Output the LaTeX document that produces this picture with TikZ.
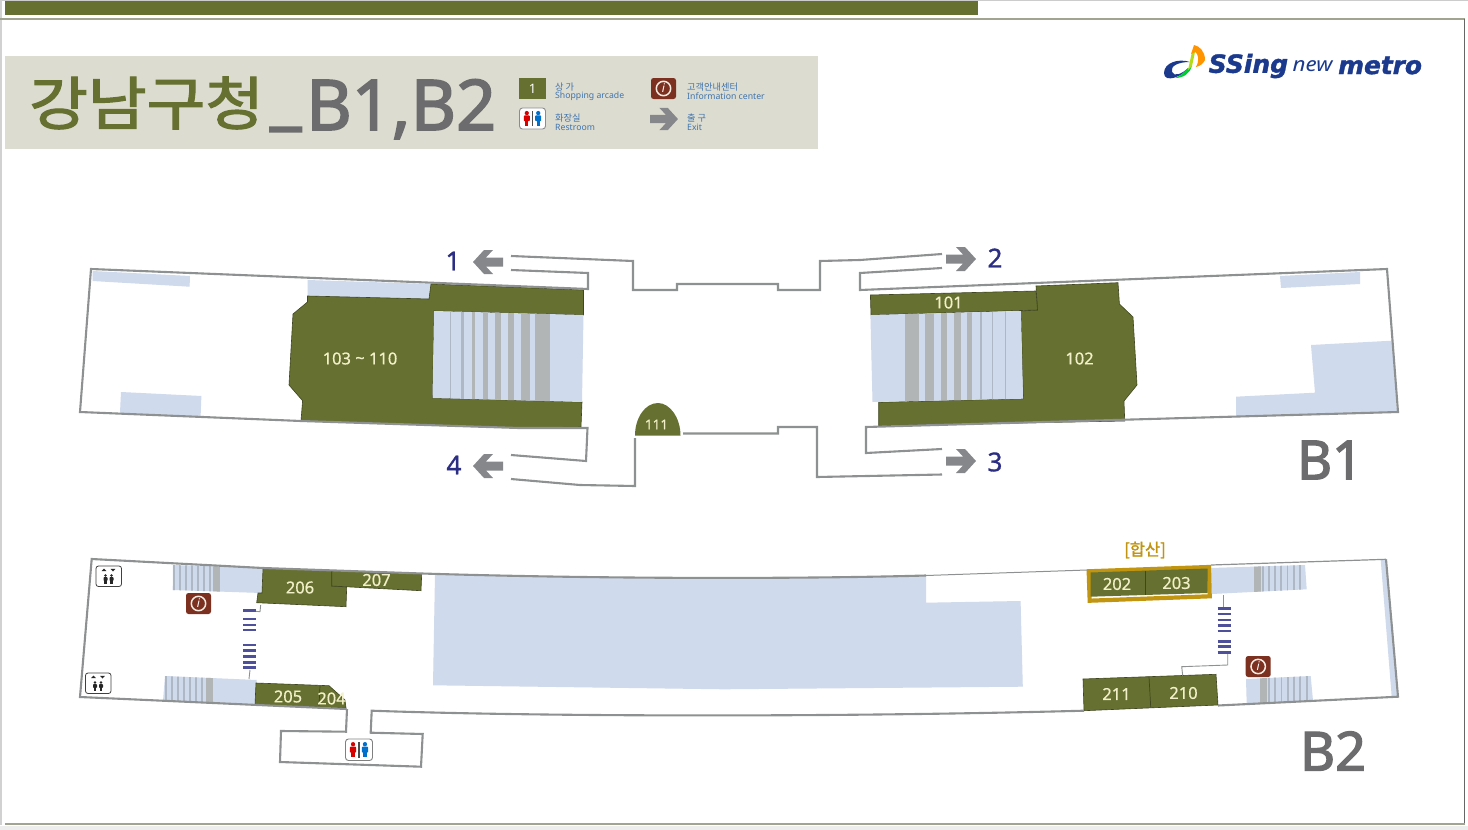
\documentclass[tikz,border=0pt]{standalone}
\usepackage{fontspec}
\setmainfont{Noto Sans}
\newfontfamily\krfont{Noto Sans CJK KR}
\newfontfamily\krsemi[FakeBold=1.6]{Noto Sans CJK KR}
\newfontfamily\krtitle[FakeBold=2.0]{Noto Sans CJK KR}
\newfontfamily\semifont[FakeBold=2.4]{Noto Sans}
\newfontfamily\numfont[FakeBold=1.2]{Noto Sans}
\newfontfamily\lightsemi[FakeBold=.6]{Noto Sans}
\newfontfamily\logofont[FakeBold=1.5]{DejaVu Sans}
\definecolor{olive}{HTML}{667030}
\definecolor{oliveedge}{HTML}{3F4620}
\definecolor{paleblue}{HTML}{CFDAEC}
\definecolor{wall}{HTML}{8E9191}
\definecolor{stripe}{HTML}{B2B5B5}
\definecolor{stripeb}{HTML}{AEB7C4}
\definecolor{labeltxt}{HTML}{F2F0C8}
\definecolor{titlegrey}{HTML}{6C6C6E}
\definecolor{navy}{HTML}{2B2E83}
\definecolor{sand}{HTML}{DDDCD0}
\definecolor{legendblue}{HTML}{3F74AE}
\definecolor{brownbox}{HTML}{7B3020}
\definecolor{arrowgrey}{HTML}{85878A}
\definecolor{gold}{HTML}{C1950F}
\definecolor{dash}{HTML}{4F509A}
\definecolor{logonavy}{HTML}{1B3A8E}
\tikzset{
 wallline/.style={draw=wall,line width=2.1pt,line join=miter},
 shop/.style={fill=olive,draw=oliveedge,line width=.6pt},
 pale/.style={fill=paleblue},
 roomlabel/.style={text=labeltxt,font=\lightsemi\fontsize{16.5}{16.5}\selectfont,inner sep=0pt},
 exitnum/.style={text=navy,font=\numfont\fontsize{26}{26}\selectfont,inner sep=0pt},
 floorlabel/.style={text=titlegrey,font=\semifont\fontsize{54}{54}\selectfont,inner sep=0pt},
 legendtxt/.style={text=legendblue,font=\fontsize{8.7}{8.7}\selectfont,inner sep=0pt,anchor=west},
 legendkr/.style={text=legendblue,font=\krfont\fontsize{9.2}{9.2}\selectfont,inner sep=0pt,anchor=west},
 exitarrow/.pic={\fill[arrowgrey] (15,0)--(4,-12)--(-5,-12)--(2,-4.5)--(-15,-4.5)--(-15,4.5)--(2,4.5)--(-5,12)--(4,12)--cycle;},
 dashbar/.style={draw=dash,line width=2.6pt},
}
\newcommand{\infoicon}[3]{% left, top, name
 \fill[brownbox,rounded corners=2.5pt] (#1,#2) rectangle ++(25,21);
 \draw[white!85!brown,line width=1.5pt] (#1+12.5,#2+10.5) circle (7.2);
 \node[inner sep=0pt,text=white,font=\fontsize{12}{12}\selectfont\bfseries\itshape] (#3) at (#1+12.5,#2+10.5) {i};
}
\newcommand{\personfig}[4]{% x, top y, color, height
 \fill[#3] (#1,#2+#4*.14) circle (#4*.14);
 \fill[#3,rounded corners=.8pt] (#1-#4*.2,#2+#4*.3) rectangle (#1+#4*.2,#2+#4*.68);
 \fill[#3] (#1-#4*.11,#2+#4*.6) rectangle (#1+#4*.11,#2+#4);
}
\newcommand{\lifticon}[2]{% left, top
 \draw[black!75,fill=white,line width=.8pt,rounded corners=2.5pt] (#1,#2) rectangle ++(25.5,20.5);
 \fill[black!85] (#1+8,#2+2.5) -- (#1+10.4,#2+5.1) -- (#1+5.6,#2+5.1) -- cycle;
 \fill[black!85] (#1+17,#2+5.5) -- (#1+19.4,#2+2.9) -- (#1+14.6,#2+2.9) -- cycle;
 \personfig{#1+9.5}{#2+8}{black!85}{10}
 \personfig{#1+15.5}{#2+8}{black!85}{10}
}
\newcommand{\wcicon}[5]{% left, top, width, height, border
 \draw[#5,fill=white,line width=.9pt,rounded corners=3pt] (#1,#2) rectangle ++(#3,#4);
 \personfig{#1+#3*.28}{#2+#4*.14}{red!85!black}{#4*.72}
 \personfig{#1+#3*.72}{#2+#4*.14}{blue!45!cyan!80!black}{#4*.72}
 \fill[black!70] (#1+#3*.5-.7,#2+#4*.12) rectangle (#1+#3*.5+.7,#2+#4*.88);
}
\newcommand{\stairband}[5]{% x0,x1,y0,y1, count
 \foreach \i in {0,...,#5} {
  \pgfmathsetmacro{\xa}{#1+(#2-#1)*\i/(#5+1)}
  \fill[stripeb] (\xa,#3) rectangle (\xa+1.8,#4);
 }
}
\begin{document}
\begin{tikzpicture}[x=1pt,y=-1pt]
\useasboundingbox (0,0) rectangle (1468,830);
\fill[white] (0,0) rectangle (1468,830);
% frame
\fill[black!20] (0,0) rectangle (1468,1);
\fill[black!18] (0,0) rectangle (1.5,825);
\fill[black!7] (0,825.5) rectangle (1468,830);
\fill[olive] (5,1) rectangle (978,15);
\draw[draw=black!35!olive!50,line width=2pt] (0,18.5) -- (1464.5,18.5);
\draw[draw=black!60,line width=1.3pt] (1464.5,18.5) -- (1464.5,824);
\draw[draw=black!35!olive!50,line width=2pt] (5,823.8) -- (1464.5,823.8);
% title
\fill[sand] (5,56) rectangle (818,149);
\node[inner sep=0pt,anchor=west,text=olive,font=\krtitle\fontsize{58}{58}\selectfont] (title) at (29,103) {\scalebox{1.1}[1]{강남구청}};
\node[inner sep=0pt,anchor=base west,text=titlegrey,font=\semifont\fontsize{70}{70}\selectfont] (titleb) at (270,130) {\raisebox{9pt}{\_}\hspace{5pt}B1,B2};
% legend
\fill[olive] (519,78) rectangle (546,99);
\node[text=white,inner sep=0pt,font=\bfseries\fontsize{13}{13}\selectfont] (l1) at (532.5,88.5) {1};
\node[legendkr] (l2) at (555,87) {상 가};
\node[legendtxt] (l3) at (555,96.5) {Shopping arcade};
\wcicon{519.5}{108}{26}{21}{black!45}
\node[legendkr] (l4) at (555,118) {화장실};
\node[legendtxt] (l5) at (555,127) {Restroom};
\infoicon{651}{78}{l6}
\node[legendkr] (l7) at (687,87) {고객안내센터};
\node[legendtxt] (l8) at (687,96.5) {Information center};
\pic[scale=.93] at (664,119) {exitarrow};
\node[legendkr] (l9) at (687,118) {출 구};
\node[legendtxt] (l10) at (687,127) {Exit};
% logo
\fill[logonavy] (1164,73) .. controls (1164,63) and (1178,58) .. (1190,62) .. controls (1178,62) and (1170,66) .. (1172,72) .. controls (1174,77) and (1182,74) .. (1188,68) .. controls (1184,76) and (1164,84) .. (1164,73) -- cycle;
\fill[green!60!teal] (1187,69) .. controls (1183,73) and (1180,76) .. (1175,78) .. controls (1184,78) and (1190,73) .. (1192,66) -- cycle;
\fill[yellow!70!green] (1188,70) -- (1192,66) -- (1195,52) -- (1192,52) -- cycle;
\fill[orange!85!yellow] (1191,54) -- (1194,45) .. controls (1200,46) and (1205,52) .. (1205,60) .. controls (1203,64) and (1200,66) .. (1196,67) .. controls (1200,60) and (1198,53) .. (1195,52) -- cycle;
\node[inner sep=0pt,anchor=west,text=logonavy,font=\logofont\bfseries\itshape\fontsize{25}{25}\selectfont] (logoa) at (1208.5,66) {SSing};
\node[inner sep=0pt,anchor=west,text=logonavy,font=\itshape\fontsize{20}{20}\selectfont] (logob) at (1292.5,66) {\scalebox{1.12}[1]{new}};
\node[inner sep=0pt,anchor=west,text=logonavy,font=\logofont\bfseries\itshape\fontsize{24.8}{24.8}\selectfont] (logoc) at (1338,65.5) {metro};
%%%%% B1
\fill[pale] (92.5,271)--(190,276)--(189.6,286.7)--(92.5,281)--cycle;
\fill[pale] (121,392)--(201.4,396)--(200.6,416.7)--(120,412.7)--cycle;
\fill[pale] (307.5,280)--(431,284)--(429,299)--(307.5,296)--cycle;
\fill[pale] (1280,276)--(1360,272)--(1360,284)--(1281,288)--cycle;
\fill[pale] (1311,345)--(1392,340.7)--(1397,412)--(1236,416.7)--(1236,396.7)--(1315,392.7)--cycle;
% left shop and stairs
\path[shop] (431,284)--(583.5,290)--(583.5,315)--(434,311)--(432.5,398)--(582,402)--(581,427)--(519,428)--(301,421)--(302.6,400.7)--(289,385)--(293,314)--(307.5,302)--(307.5,296)--(429,299)--cycle;
\begin{scope}
\clip (434,311)--(583.5,315)--(582,402)--(432.5,398)--cycle;
\fill[pale] (430,305) rectangle (590,405);
\foreach \a/\b/\c in {450/451/stripeb,461/463.5/stripeb,472/475/stripe,483/488/stripe,494.5/500.6/stripe,507.6/514/stripe,521/530/stripe,535/550/stripe}
 \fill[\c] (\a,305) rectangle (\b,405);
\end{scope}
% right shop and stairs
\path[shop] (1036,286)--(1118,282.7)--(1119.4,304)--(1133,317)--(1137,385)--(1124,401)--(1124.7,421)--(878.7,425.7)--(878.7,402.3)--(1023.3,398.7)--(1021,311)--(1037.5,310)--cycle;
\path[shop] (870.4,295)--(1036,291)--(1037.5,310)--(871,315)--cycle;
\begin{scope}
\clip (870.4,315)--(1021,311)--(1023,398.7)--(872.5,402)--cycle;
\fill[pale] (865,305) rectangle (1030,405);
\foreach \a/\b/\c in {905/919/stripe,925/934/stripe,940.7/947/stripe,954/960.7/stripe,967/971.5/stripe,980/981.5/stripeb,992.3/993.3/stripeb,1005/1006/stripeb}
 \fill[\c] (\a,305) rectangle (\b,405);
\end{scope}
% shop 111
\fill[olive] (635,435.5) .. controls (635,418) and (645,403) .. (658,403) .. controls (670,403) and (680.5,418) .. (680.5,435.5) -- cycle;
% walls
\draw[wallline] (511,270)--(588,273)--(588,289)--(91,269)--(80,412)--(301,421)--(519,428)--(587.5,428)--(586,461)--(511,455);
\draw[wallline] (511,256)--(633,261)--(633,290)--(677,290)--(677,284)--(778,284)--(778,290)--(820,290)--(820,261)--(860,260)--(942,254);
\draw[wallline] (942,268)--(860,273)--(860,290)--(1387,269)--(1398,412)--(866,427)--(866,453)--(942,449);
\draw[wallline] (511,479)--(580,485)--(635,486)--(635,438);
\draw[wallline] (683,433.5)--(778,433.5)--(778,427)--(817,427)--(817,477)--(942,474.5);
% labels
\node[roomlabel] (r103) at (360,358.5) {103 \raisebox{.5pt}{\char`\~} 110};
\node[roomlabel] (r101) at (948.5,302.5) {101};
\node[roomlabel] (r102) at (1079.5,358.5) {102};
\node[roomlabel,font=\lightsemi\fontsize{13.5}{13.5}\selectfont] (r111) at (656.5,424.5) {111};
\pic at (488,262) [xscale=-1] {exitarrow};
\pic at (961,259) {exitarrow};
\pic at (961,461) {exitarrow};
\pic at (488,466) [xscale=-1] {exitarrow};
\node[exitnum] (e1) at (453,261) {1};
\node[exitnum] (e2) at (995,258) {2};
\node[exitnum] (e3) at (995,462) {3};
\node[exitnum] (e4) at (454,465) {4};
\node[floorlabel] (fb1) at (1330,460) {B1};
%%%%% B2
\fill[pale] (435,574)--(600,577.5)--(800,578)--(926,575.7)--(926,602.7)--(1020.6,601)--(1022.8,686.7)--(723.6,689.3)--(433,685.3)--cycle;
\fill[pale] (1380.7,560)--(1386,559.3)--(1398,696.7)--(1391.7,696.7)--cycle;
% stairs
\fill[pale] (173,565)--(262.7,568)--(261.7,593)--(172.7,590)--cycle;
\begin{scope}
\clip (173,565)--(262.7,568)--(261.7,593)--(172.7,590)--cycle;
\stairband{173}{215}{560}{598}{6}
\fill[stripe] (213,560) rectangle (220,598);
\end{scope}
\fill[pale] (165,676)--(256.7,680)--(255,705)--(163,701)--cycle;
\begin{scope}
\clip (165,676)--(256.7,680)--(255,705)--(163,701)--cycle;
\stairband{165}{207}{670}{708}{6}
\fill[stripe] (206,670) rectangle (213,708);
\end{scope}
\fill[pale] (1210.7,568)--(1305,565)--(1306.7,589.3)--(1211.7,594)--cycle;
\begin{scope}
\clip (1210.7,568)--(1305,565)--(1306.7,589.3)--(1211.7,594)--cycle;
\stairband{1262}{1305}{560}{598}{6}
\fill[stripe] (1254,560) rectangle (1261,598);
\end{scope}
\fill[pale] (1246,679)--(1310.7,676)--(1313,701)--(1246.7,704)--cycle;
\begin{scope}
\clip (1246,679)--(1310.7,676)--(1313,701)--(1246.7,704)--cycle;
\stairband{1268}{1312}{670}{708}{6}
\fill[stripe] (1260,670) rectangle (1267,708);
\end{scope}
% shops
\path[shop] (263,568)--(331.7,570.7)--(331.7,586)--(346.7,587)--(346,606.7)--(256.7,602.7)--(258,593)--(262,593)--cycle;
\path[shop] (331.7,570.7)--(421.7,574)--(421,590.7)--(331.7,586)--cycle;
\path[shop] (256,683)--(329,685.7)--(345,700)--(346,708)--(255,705)--cycle;
\draw[oliveedge,line width=.7pt] (320,685.7)--(319,706.7);
\path[shop] (1083,679)--(1216,674.3)--(1218,705)--(1084,710.7)--cycle;
\draw[oliveedge,line width=.7pt] (1149,676.7)--(1150.7,707);
\draw[gold,line width=4.2pt,line join=miter,fill=white] (1088.7,571.3)--(1209,567)--(1209.7,596.3)--(1089.7,600.7)--cycle;
\fill[olive] (1090.5,572.5)--(1207.7,568.5)--(1207.7,593)--(1090.7,596.7)--cycle;
\draw[oliveedge,line width=.7pt] (1145,571)--(1145,595);
% small links
\draw[draw=wall,line width=.9pt] (260.7,605)--(260,611.7)--(253,611);
\draw[draw=wall,line width=.9pt] (250,670)--(249,679);
\draw[draw=wall,line width=.9pt] (1223,595)--(1223,606.7);
\draw[draw=wall,line width=.9pt] (1227.7,654)--(1227.7,665)--(1181.7,666.7)--(1182.7,675.7);
\foreach \y in {610.7,619,625,630,645,650.7,656.7,662.3,667.7}
 \draw[dashbar] (243,\y)--(256,\y);
\foreach \y in {608.3,614,620,625.7,631,641.7,646.7,652.3}
 \draw[dashbar] (1217.5,\y)--(1231,\y);
% walls
\draw[wallline] (346.7,709)--(80,697)--(91.7,559)--(263,568)--(422,573.5);
\draw[wallline] (422,573.5) .. controls (600,579) and (800,579) .. (926,575.5);
\draw[draw=wall,line width=1pt] (926,575.5) -- (1087,570);
\draw[draw=wall,line width=1.2pt] (1211,565)--(1386,559.3);
\draw[wallline] (1386,559.3)--(1398,696.7)--(1218,705.5);
\draw[wallline] (1084,710.7) .. controls (850,717) and (550,717) .. (371.7,710.7)--(370.7,732.7)--(422.7,734)--(421,766.7)--(280,762)--(281,731)--(346,731.7)--(347,709);
% icons
\lifticon{96}{566}
\lifticon{85.5}{673}
\infoicon{186}{593}{i1}
\infoicon{1245.7}{656}{i2}
\wcicon{345.5}{739}{27}{21.5}{black!50}
% labels
\node[roomlabel] (r206) at (300,587.5) {206};
\node[roomlabel] (r207) at (376.5,580) {207};
\node[roomlabel] (r205) at (288,696.5) {205};
\node[roomlabel] (r204) at (331.5,698.5) {204};
\node[roomlabel] (r202) at (1117,584) {202};
\node[roomlabel] (r203) at (1176.5,583) {203};
\node[roomlabel] (r211) at (1116.5,694) {211};
\node[roomlabel] (r210) at (1183.5,693) {210};
\node[inner sep=0pt,text=gold,font=\krsemi\fontsize{16.5}{16.5}\selectfont] (hs) at (1145,550) {[합산]};
\node[floorlabel] (fb2) at (1333,751) {B2};
\end{tikzpicture}
\end{document}
